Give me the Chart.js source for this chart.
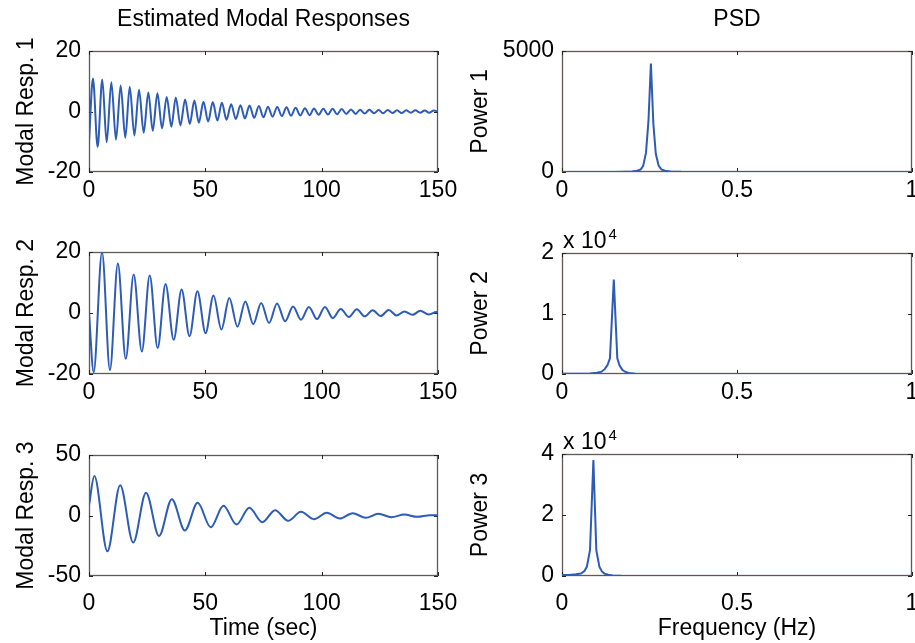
<!DOCTYPE html>
<html>
<head>
<meta charset="utf-8">
<script src="https://cdn.jsdelivr.net/npm/chart.js@4.4.1/dist/chart.umd.min.js"></script>
<style>
  body { margin: 0; background: #fff; }
  #wrap { position: relative; width: 915px; height: 643px; }
  canvas { position: absolute; left: 0; top: 0; }
</style>
</head>
<body>
<div id="wrap">
  <canvas id="resp1" width="915" height="643"></canvas>
  <canvas id="resp2" width="915" height="643"></canvas>
  <canvas id="resp3" width="915" height="643"></canvas>
  <canvas id="psd1" width="915" height="643"></canvas>
  <canvas id="psd2" width="915" height="643"></canvas>
  <canvas id="psd3" width="915" height="643"></canvas>
</div>
<script>
const resp1Time = [0, 1.7, 3.7, 5.7, 7.6, 9.6, 11.6, 13.6, 15.6, 17.5, 19.5, 21.5, 23.5, 25.5, 27.4, 29.4, 31.4, 33.4, 35.4, 37.3, 39.3,
    41.3, 43.3, 45.3, 47.2, 49.2, 51.2, 53.2, 55.2, 57.1, 59.1, 61.1, 63.1, 65.1, 67.0, 69.0, 71.0, 73.0, 75.0, 76.9, 78.9,
    80.9, 82.9, 84.9, 86.8, 88.8, 90.8, 92.8, 94.8, 96.7, 98.7, 100.7, 102.7, 104.7, 106.6, 108.6, 110.6, 112.6, 114.6, 116.5, 118.5,
    120.5, 122.5, 124.5, 126.4, 128.4, 130.4, 132.4, 134.4, 136.3, 138.3, 140.3, 142.3, 144.3, 146.2, 148.2, 150];
const resp1Value = [-10, 10.9, -11.7, 10.6, -10.2, 9.7, -9.3, 8.6, -8.7, 8.2, -7.9, 7.2, -7.0, 6.3, -6.4, 6.0, -5.6, 4.8, -5.0, 4.6, -4.6,
    4.0, -4.1, 3.6, -3.7, 3.2, -3.3, 3.1, -3.0, 2.9, -2.7, 2.4, -2.5, 2.1, -2.3, 2.0, -2.1, 1.8, -1.9, 1.6, -1.7,
    1.5, -1.5, 1.4, -1.4, 1.2, -1.3, 1.1, -1.2, 1.0, -1.1, 0.9, -1.0, 0.9, -0.9, 0.8, -0.8, 0.7, -0.8, 0.6, -0.7,
    0.6, -0.6, 0.5, -0.6, 0.5, -0.5, 0.4, -0.5, 0.4, -0.4, 0.4, -0.4, 0.3, -0.4, 0.3, 0];

const resp2Time = [0, 2.0, 5.6, 9.0, 12.4, 15.8, 19.2, 22.7, 26.1, 29.5, 32.9, 36.4, 39.8, 43.2, 46.6, 50.1, 53.5, 56.9, 60.3, 63.8,
    67.2, 70.6, 74.0, 77.4, 80.8, 84.3, 87.7, 91.1, 94.5, 98.0, 101.4, 104.8, 108.2, 111.7, 115.1, 118.5, 121.9, 125.4, 128.8,
    132.2, 135.6, 139.0, 142.4, 145.9, 149.3, 150];
const resp2Value = [0, -19.4, 20.0, -18.7, 16.2, -15.0, 12.6, -12.6, 12.3, -11.5, 9.5, -8.8, 7.7, -7.6, 7.1, -6.6, 5.7, -5.4, 4.9, -4.5,
    3.8, -3.7, 3.3, -3.3, 3.1, -2.7, 2.1, -2.2, 2.0, -2.0, 2.0, -1.7, 1.3, -1.3, 1.2, -1.1, 0.9, -1.0, 1.0,
    -0.8, 0.5, -0.6, 0.7, -0.5, 0.3, 0.2];

const resp3Time = [0, 2.3, 7.9, 13.4, 19.0, 24.5, 30.1, 35.6, 41.2, 46.7, 52.3, 57.8, 63.4, 68.9, 74.5, 80.0, 85.6, 91.1, 96.7,
    102.2, 107.8, 113.3, 118.9, 124.4, 130.0, 135.5, 141.1, 146.6, 150];
const resp3Value = [8.6, 32.6, -29.6, 25.1, -22.4, 18.8, -16.9, 13.5, -12.4, 10.5, -9.7, 8.0, -7.5, 6.4, -5.5, 4.4, -4.4, 3.0, -3.0,
    2.2, -2.5, 1.9, -1.9, 1.4, -1.4, 0.8, -1.1, 0.3, 0.2];

// power spectral densities (Hz)
const psdFreq1 = [0, 0.1, 0.15, 0.18, 0.2, 0.215, 0.225, 0.232, 0.24, 0.247, 0.254, 0.261, 0.268, 0.276, 0.284, 0.294, 0.31, 0.34, 0.4, 0.5, 0.7, 1];
const psdPower1 = [0, 2, 5, 12, 22, 50, 110, 250, 800, 2100, 4480, 2000, 750, 270, 110, 50, 25, 10, 4, 2, 1, 0];

const psdFreq2 = [0, 0.05, 0.08, 0.1, 0.113, 0.122, 0.13, 0.137, 0.148, 0.158, 0.164, 0.172, 0.18, 0.19, 0.21, 0.25, 0.35, 0.6, 1];
const psdPower2 = [50, 60, 100, 200, 380, 800, 1480, 2600, 15600, 2600, 1480, 700, 380, 160, 60, 20, 5, 2, 0];

const psdFreq3 = [0, 0.02, 0.04, 0.054, 0.064, 0.071, 0.08, 0.0897, 0.098, 0.107, 0.114, 0.121, 0.132, 0.145, 0.17, 0.22, 0.35, 0.6, 1];
const psdPower3 = [300, 350, 550, 790, 1600, 3000, 8500, 38000, 8500, 3000, 1500, 790, 400, 200, 100, 40, 15, 5, 0];

// tick labels
const timeTicks = [0, 50, 100, 150];
const freqTicks = [0, 0.5, 1];
const resp1Ticks = [-20, 0, 20];
const resp2Ticks = [-20, 0, 20];
const resp3Ticks = [-50, 0, 50];
const power1Ticks = [0, 5000];
const power2Ticks = [0, 10000, 20000];
const power3Ticks = [0, 20000, 40000];

const lineColor = '#2d5cb6';
Chart.defaults.font.family = '"Liberation Sans", Arial, Helvetica, sans-serif';
Chart.defaults.font.size = 23;
Chart.defaults.color = '#000';

const boxPlugin = {
    id: 'matlabBox',
    beforeDatasetsDraw(chart, args, opts) {
        const ctx = chart.ctx;
        const a = chart.chartArea;
        const x = chart.scales.x, y = chart.scales.y;
        ctx.save();
        ctx.strokeStyle = '#5f5a56';
        ctx.lineWidth = 1.3;
        ctx.strokeRect(a.left + 0.5, a.top + 0.5, a.width - 1, a.height - 1);
        ctx.strokeStyle = '#222';
        ctx.lineWidth = 1;
        ctx.beginPath();
        x.ticks.forEach(t => {
            const px = Math.round(x.getPixelForValue(t.value)) + 0.5;
            ctx.moveTo(px, a.bottom); ctx.lineTo(px, a.bottom - 4);
            ctx.moveTo(px, a.top); ctx.lineTo(px, a.top + 4);
        });
        y.ticks.forEach(t => {
            const py = Math.round(y.getPixelForValue(t.value)) + 0.5;
            ctx.moveTo(a.left, py); ctx.lineTo(a.left + 4, py);
            ctx.moveTo(a.right, py); ctx.lineTo(a.right - 4, py);
        });
        ctx.stroke();
        if (opts.exponent) {
            ctx.fillStyle = '#000';
            ctx.textBaseline = 'alphabetic';
            ctx.font = '23px "Liberation Sans", Arial, sans-serif';
            ctx.fillText('x 10', a.left + 1, a.top - 5);
            const w = ctx.measureText('x 10').width;
            ctx.font = '15px "Liberation Sans", Arial, sans-serif';
            ctx.fillText(opts.exponent, a.left + 3 + w, a.top - 14);
        }
        ctx.restore();
    }
};

function makeChart(id, p) {
    const yWidth = p.left - p.titleLeft;
    const xHeight = p.xTitle ? 66 : 40;
    const hasTitle = !!p.title;
    new Chart(document.getElementById(id), {
        type: 'line',
        data: {
            datasets: [{
                data: p.xs.map((v, i) => ({ x: v, y: p.ys[i] })),
                borderColor: lineColor,
                borderWidth: 2,
                pointRadius: 0,
                fill: false,
                cubicInterpolationMode: p.smooth ? 'monotone' : 'default',
                tension: 0
            }]
        },
        plugins: [boxPlugin],
        options: {
            responsive: false,
            devicePixelRatio: 1,
            animation: false,
            events: [],
            layout: {
                padding: {
                    left: p.titleLeft,
                    top: hasTitle ? 6 : p.top,
                    right: 915 - p.right,
                    bottom: 643 - p.bottom - xHeight
                }
            },
            plugins: {
                legend: { display: false },
                tooltip: { enabled: false },
                title: {
                    display: hasTitle,
                    text: p.title || '',
                    fullSize: false,
                    font: { size: 23, weight: 'normal' },
                    color: '#000',
                    padding: { top: 0, bottom: p.top - 6 - 27.6 }
                },
                matlabBox: { exponent: p.exponent || '' }
            },
            scales: {
                x: {
                    type: 'linear',
                    min: p.xTicks[0],
                    max: p.xTicks[p.xTicks.length - 1],
                    afterBuildTicks: s => { s.ticks = p.xTicks.map(v => ({ value: v })); },
                    afterFit: s => { s.height = xHeight; s.paddingLeft = 0; s.paddingRight = 0; },
                    grid: { display: false, drawTicks: false },
                    border: { display: false },
                    ticks: { padding: p.xTitle ? 14 : 5, maxRotation: 0, autoSkip: false, callback: v => String(v) },
                    title: {
                        display: !!p.xTitle,
                        text: p.xTitle || '',
                        font: { size: 23 },
                        padding: { top: 0, bottom: 0 }
                    }
                },
                y: {
                    min: p.yTicks[0],
                    max: p.yTicks[p.yTicks.length - 1],
                    afterBuildTicks: s => { s.ticks = p.yTicks.map(v => ({ value: v })); },
                    afterFit: s => { s.width = yWidth; s.paddingTop = 0; s.paddingBottom = 0; },
                    grid: { display: false, drawTicks: false },
                    border: { display: false },
                    ticks: { padding: 8, autoSkip: false, callback: v => String(v / (p.div || 1)) },
                    title: {
                        display: true,
                        text: p.yTitle,
                        font: { size: 23 },
                        padding: { top: 0, bottom: 0 }
                    }
                }
            }
        }
    });
}

makeChart('resp1', { left: 89, top: 51, right: 438, bottom: 172, titleLeft: 13, xs: resp1Time, ys: resp1Value, smooth: true,
    xTicks: timeTicks, yTicks: resp1Ticks, yTitle: 'Modal Resp. 1', title: 'Estimated Modal Responses' });
makeChart('resp2', { left: 89, top: 252, right: 438, bottom: 374, titleLeft: 13, xs: resp2Time, ys: resp2Value, smooth: true,
    xTicks: timeTicks, yTicks: resp2Ticks, yTitle: 'Modal Resp. 2' });
makeChart('resp3', { left: 89, top: 455, right: 438, bottom: 576, titleLeft: 13, xs: resp3Time, ys: resp3Value, smooth: true,
    xTicks: timeTicks, yTicks: resp3Ticks, yTitle: 'Modal Resp. 3', xTitle: 'Time (sec)' });
makeChart('psd1', { left: 562, top: 51, right: 912, bottom: 172, titleLeft: 467, xs: psdFreq1, ys: psdPower1,
    xTicks: freqTicks, yTicks: power1Ticks, yTitle: 'Power 1', title: 'PSD' });
makeChart('psd2', { left: 562, top: 253, right: 912, bottom: 374, titleLeft: 467, xs: psdFreq2, ys: psdPower2,
    xTicks: freqTicks, yTicks: power2Ticks, yTitle: 'Power 2', div: 10000, exponent: '4' });
makeChart('psd3', { left: 562, top: 454, right: 912, bottom: 576, titleLeft: 467, xs: psdFreq3, ys: psdPower3,
    xTicks: freqTicks, yTicks: power3Ticks, yTitle: 'Power 3', div: 10000, exponent: '4', xTitle: 'Frequency (Hz)' });
</script>
</body>
</html>
